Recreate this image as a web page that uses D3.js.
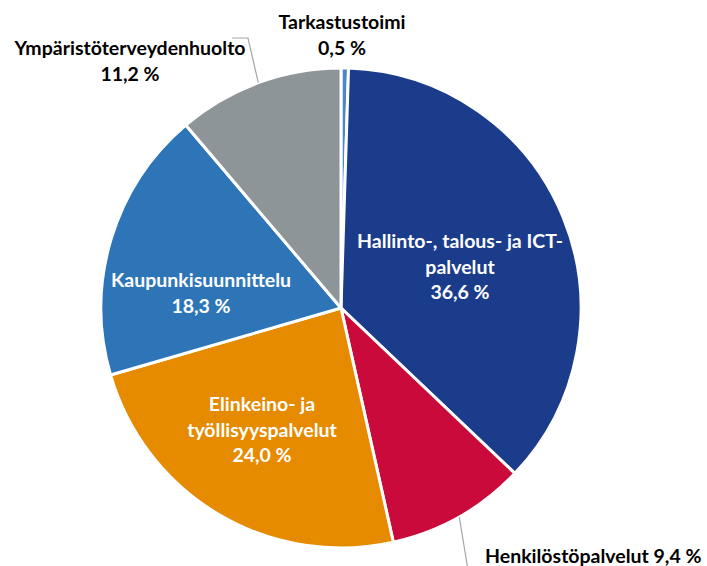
<!DOCTYPE html>
<html>
<head>
<meta charset="utf-8">
<script src="https://cdn.jsdelivr.net/npm/d3@7"></script>
<style>
  body { margin: 0; background: #fff; }
  text { font-family: Lato, "Open Sans", sans-serif; font-weight: bold; font-size: 19.5px; }
</style>
</head>
<body>
<script>
  const width = 707, height = 566;
  const cx = 341, cy = 308, radius = 240;

  // data, clockwise from 12 o'clock
  const categories = ['Tarkastustoimi', 'Hallinto-, talous- ja ICT-palvelut', 'Henkilöstöpalvelut',
                      'Elinkeino- ja työllisyyspalvelut', 'Kaupunkisuunnittelu', 'Ympäristöterveydenhuolto'];
  const values = [0.5, 36.6, 9.4, 24.0, 18.3, 11.2];
  const colors = ['#4a86c8', '#1b3c8b', '#c90a3b', '#e68a00', '#2e75b8', '#8d9598'];
  // label lines as drawn in the chart
  const labelLines = [
    ['Tarkastustoimi', '0,5 %'],
    ['Hallinto-, talous- ja ICT-', 'palvelut', '36,6 %'],
    ['Henkilöstöpalvelut 9,4 %'],
    ['Elinkeino- ja', 'työllisyyspalvelut', '24,0 %'],
    ['Kaupunkisuunnittelu', '18,3 %'],
    ['Ympäristöterveydenhuolto', '11,2 %']
  ];

  const data = categories.map((c, i) => ({name: c, value: values[i], color: colors[i], lines: labelLines[i]}));

  const svg = d3.select('body').append('svg')
    .attr('width', width).attr('height', height);
  const g = svg.append('g').attr('transform', `translate(${cx},${cy})`);

  const pie = d3.pie().sort(null).value(d => d.value);
  const arc = d3.arc().innerRadius(0).outerRadius(radius);
  const arcs = pie(data);

  g.selectAll('path').data(arcs).enter().append('path')
    .attr('d', arc)
    .attr('fill', d => d.data.color)
    .attr('stroke', '#fff')
    .attr('stroke-width', 3)
    .attr('stroke-linejoin', 'round');

  // label placement (first baseline)
  const labelPos = [
    {x: 342, y: 29, color: '#000', anchor: 'middle'},
    {x: 460, y: 248, color: '#fff', anchor: 'middle'},
    {x: 485, y: 563, color: '#000', anchor: 'start'},
    {x: 262, y: 411, color: '#fff', anchor: 'middle'},
    {x: 201, y: 287, color: '#fff', anchor: 'middle'},
    {x: 130, y: 55, color: '#000', anchor: 'middle'}
  ];
  const lineH = 25.5;

  arcs.forEach((a, i) => {
    const p = labelPos[i];
    const t = svg.append('text')
      .attr('x', p.x).attr('y', p.y)
      .attr('text-anchor', p.anchor)
      .attr('fill', p.color);
    a.data.lines.forEach((l, j) => {
      t.append('tspan').attr('x', p.x).attr('dy', j === 0 ? 0 : lineH).text(l);
    });
  });

  // leader lines
  const leader = d3.line();
  const edge = (a, f) => {
    const ang = a.startAngle + (a.endAngle - a.startAngle) * f;
    return [cx + Math.sin(ang) * radius, cy - Math.cos(ang) * radius];
  };
  svg.append('path')
    .attr('d', leader([edge(arcs[5], 0.5), [248, 38], [232, 38]]))
    .attr('fill', 'none').attr('stroke', '#a6a6a6').attr('stroke-width', 1.2);
  svg.append('path')
    .attr('d', leader([edge(arcs[2], 0.5), [468, 570]]))
    .attr('fill', 'none').attr('stroke', '#a6a6a6').attr('stroke-width', 1.2);
</script>
</body>
</html>
